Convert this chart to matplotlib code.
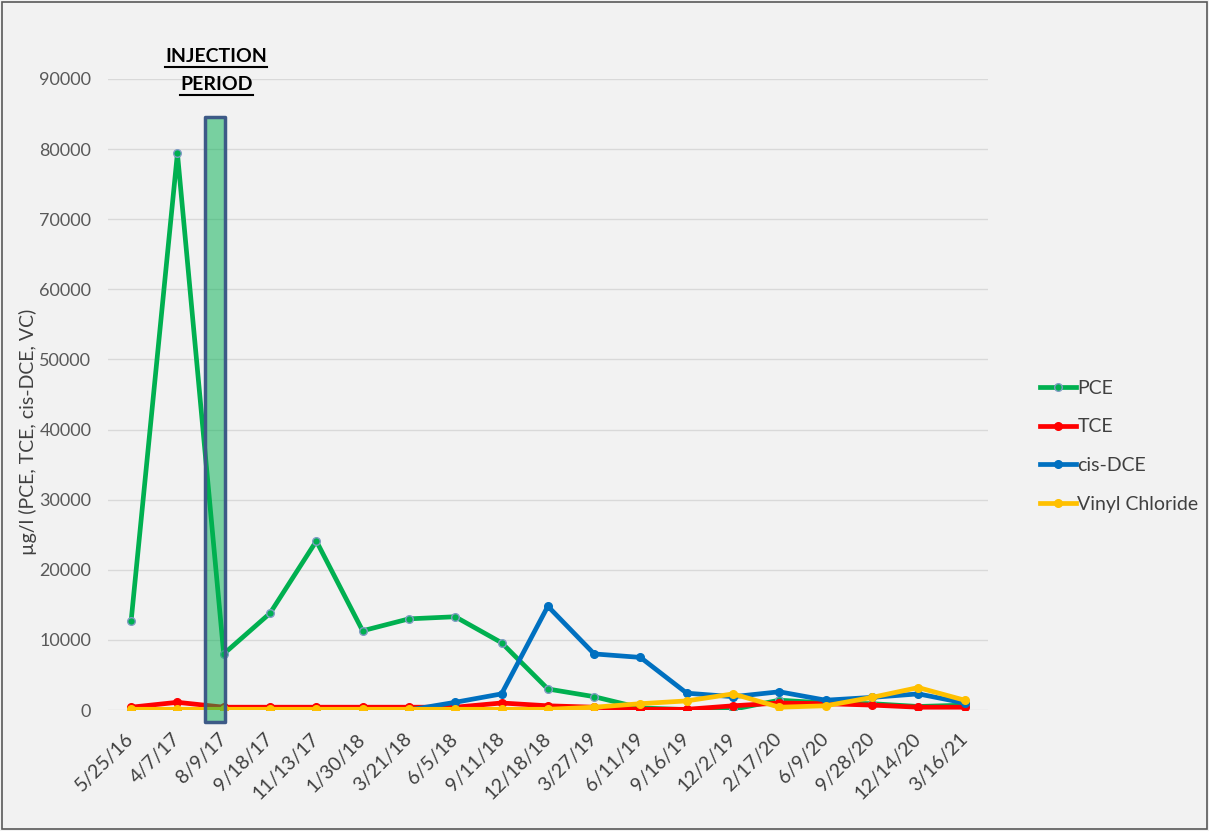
import numpy as np
import matplotlib
matplotlib.use('Agg')
import matplotlib.pyplot as plt
from matplotlib.patches import Rectangle

plt.rcParams['font.family'] = ['Lato', 'DejaVu Sans']

# sampling dates and concentrations (ug/l)
dates = ['5/25/16', '4/7/17', '8/9/17', '9/18/17', '11/13/17', '1/30/18', '3/21/18',
         '6/5/18', '9/11/18', '12/18/18', '3/27/19', '6/11/19', '9/16/19', '12/2/19',
         '2/17/20', '6/9/20', '9/28/20', '12/14/20', '3/16/21']
pce = [12700, 79400, 8000, 13800, 24100, 11300, 13000, 13300, 9600, 3000,
       1900, 300, 50, 100, 1400, 1000, 900, 500, 700]
tce = [400, 1100, 400, 400, 400, 400, 400, 400, 1000, 600,
       400, 100, 100, 600, 1000, 900, 700, 400, 400]
cis_dce = [0, 0, 0, 0, 0, 0, 0, 1100, 2300, 14800,
           8000, 7500, 2400, 1900, 2600, 1400, 1800, 2300, 1000]
vc = [100, 100, 100, 100, 100, 100, 100, 100, 100, 100,
      400, 900, 1300, 2300, 400, 600, 1800, 3200, 1400]

bg = '#f2f2f2'
fig = plt.figure(figsize=(12.09, 8.31), dpi=100, facecolor=bg)
ax = fig.add_axes([0.0893, 0.1456, 0.7277, 0.7594])
ax.set_facecolor(bg)

x = np.arange(len(dates))
ax.plot(x, pce, color='#00b050', lw=3.4, marker='o', ms=5.5, mfc='#00b050', mec='#7f9cc4', mew=1, label='PCE')
ax.plot(x, tce, color='#ff0000', lw=3.4, marker='o', ms=5.5, label='TCE')
ax.plot(x, cis_dce, color='#0070c0', lw=3.4, marker='o', ms=5.5, label='cis-DCE')
ax.plot(x, vc, color='#ffc000', lw=3.4, marker='o', ms=5.5, label='Vinyl Chloride')

# injection period box
rect = Rectangle((1.60, -1700), 0.43, 86300, facecolor='#00b050', alpha=0.5,
                 edgecolor='none', clip_on=False, zorder=5)
ax.add_patch(rect)
rect2 = Rectangle((1.60, -1700), 0.43, 86300, facecolor='none', edgecolor='#3d5a87',
                  lw=2.5, clip_on=False, zorder=6, joinstyle='round')
ax.add_patch(rect2)

t1 = ax.text(1.84, 93150, 'INJECTION', ha='center', va='center', fontsize=14,
             fontweight='bold', color='black', clip_on=False)
t2 = ax.text(1.84, 89150, 'PERIOD', ha='center', va='center', fontsize=14,
             fontweight='bold', color='black', clip_on=False)

ax.set_xlim(-0.5, len(dates) - 0.5)
ax.set_ylim(0, 90000)
ax.set_yticks(np.arange(0, 90001, 10000))
ax.set_xticks(x)
ax.set_xticklabels(dates, rotation=45, ha='right', va='center', rotation_mode='anchor',
                   fontsize=14, color='#404040')
ax.tick_params(axis='y', labelsize=13, labelcolor='#595959', length=0, pad=12)
ax.tick_params(axis='x', length=0, pad=19)
ax.grid(axis='y', color='#d9d9d9', lw=1)
ax.set_axisbelow(True)
for s in ax.spines.values():
    s.set_visible(False)
ax.set_ylabel('µg/l (PCE, TCE, cis-DCE, VC)', fontsize=14, color='#404040')
ax.yaxis.set_label_coords(-0.081, 0.44)

ax.legend(loc='center left', bbox_to_anchor=(1.04, 0.418), frameon=False, fontsize=14,
          labelspacing=1.12, handlelength=1.85, handletextpad=0.05, labelcolor='#404040')

# underline the injection labels
fig.canvas.draw()
r = fig.canvas.get_renderer()
for t in (t1, t2):
    bb = t.get_window_extent(r)
    yy = (bb.y0 - 2) / fig.bbox.height
    fig.add_artist(plt.Line2D([bb.x0 / fig.bbox.width, bb.x1 / fig.bbox.width], [yy, yy],
                              color='black', lw=1.5))

# outer border
fig.add_artist(Rectangle((0.002, 0.002), 0.996, 0.996, transform=fig.transFigure,
                         facecolor='none', edgecolor='#595959', lw=1.2))

fig.savefig('out.png', dpi=100, facecolor=bg)
